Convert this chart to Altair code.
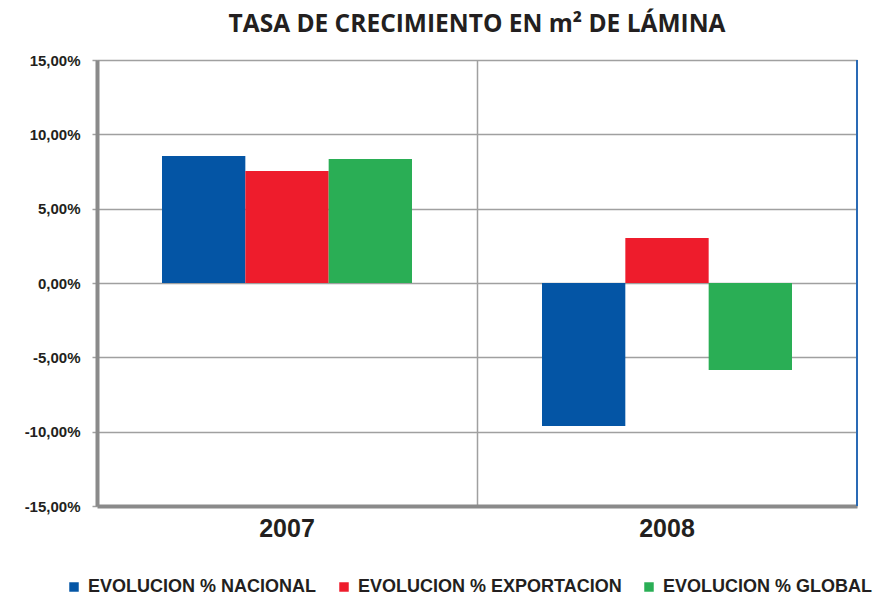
import altair as alt
import pandas as pd

years = ["2007", "2008"]
series = ["EVOLUCION % NACIONAL", "EVOLUCION % EXPORTACION", "EVOLUCION % GLOBAL"]
nacional = [8.54, -9.62]
exportacion = [7.53, 3.03]
global_ = [8.34, -5.85]
colors = ["#0455a5", "#ee1c2c", "#2aae55"]
y_ticks = [-15, -10, -5, 0, 5, 10, 15]

rows = []
for i, yr in enumerate(years):
    for s, vals in zip(series, [nacional, exportacion, global_]):
        rows.append({"year": yr, "series": s, "value": vals[i]})
df = pd.DataFrame(rows)

W, H = 760, 446
LBL = "Liberation Sans"
GRID = "#a0a0a0"
AX = "#8a8a8a"

bars = alt.Chart(df).mark_bar().encode(
    x=alt.X("year:N", sort=years,
            scale=alt.Scale(paddingInner=0, paddingOuter=0),
            axis=alt.Axis(title=None, labelAngle=0, ticks=False, labelFont=LBL,
                          labelFontSize=25, labelFontWeight="bold", labelColor="#231f20",
                          labelPadding=10, domainColor=AX, domainWidth=4,
                          grid=True, gridColor=GRID, gridWidth=1.5, bandPosition=0)),
    xOffset=alt.XOffset("series:N", sort=series,
                        scale=alt.Scale(paddingOuter=0.78, paddingInner=0)),
    y=alt.Y("value:Q", scale=alt.Scale(domain=[-15, 15], nice=False),
            axis=alt.Axis(title=None, values=y_ticks,
                          labelExpr="(datum.value < 0 ? '-' : '') + replace(format(abs(datum.value), '.2f'), '.', ',') + '%'",
                          labelFont=LBL, labelFontSize=15, labelFontWeight="bold",
                          labelColor="#231f20", labelPadding=12,
                          tickSize=5, tickColor=GRID, tickWidth=1.5,
                          domainColor=AX, domainWidth=4,
                          grid=True, gridColor=GRID, gridWidth=1.5)),
    color=alt.Color("series:N", sort=series,
                    scale=alt.Scale(domain=series, range=colors),
                    legend=alt.Legend(title=None, orient="none", direction="horizontal",
                                      legendX=-32, legendY=H + 72,
                                      symbolType="square", symbolSize=90,
                                      symbolStrokeWidth=0, labelLimit=0,
                                      labelFont=LBL, labelFontSize=18,
                                      labelFontWeight="bold", labelColor="#231f20",
                                      columnPadding=18, labelOffset=5)),
)

border = alt.Chart(pd.DataFrame({"x": [0]})).mark_rule(
    color="#2a6ab5", strokeWidth=2
).encode(x=alt.value(W), y=alt.value(0), y2=alt.value(H))

chart = alt.layer(bars, border).properties(
    width=W, height=H,
    title=alt.Title("TASA DE CRECIMIENTO EN m² DE LÁMINA", font="Open Sans",
                    fontSize=24.5, fontWeight="bold", color="#231f20", offset=16),
    autosize=alt.AutoSizeParams(type="none"),
    padding={"left": 89, "top": 52, "right": 16, "bottom": 89},
).configure_view(stroke=None)

chart.save("out.html", embed_options={"renderer": "svg", "actions": False})
